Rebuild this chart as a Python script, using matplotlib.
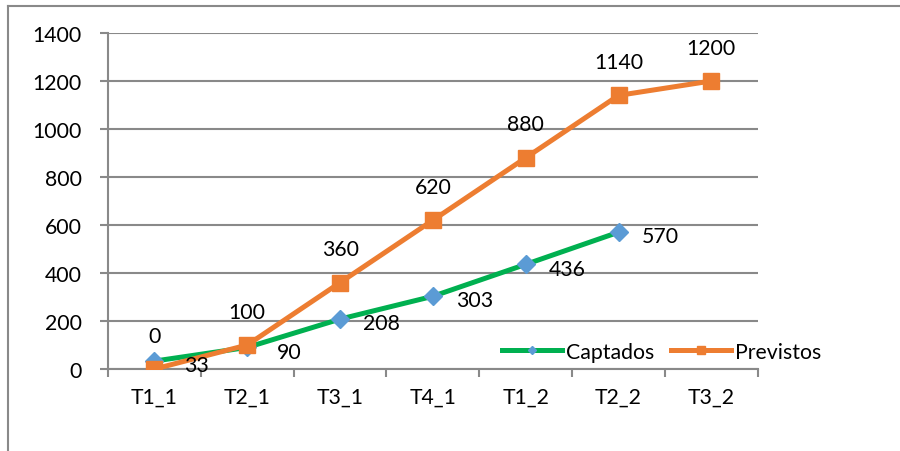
import matplotlib
matplotlib.use("Agg")
import matplotlib.pyplot as plt
from matplotlib.lines import Line2D

plt.rcParams['font.family'] = ['Lato', 'DejaVu Sans']

categorias = ['T1_1', 'T2_1', 'T3_1', 'T4_1', 'T1_2', 'T2_2', 'T3_2']
captados = [33, 90, 208, 303, 436, 570]
previstos = [0, 100, 360, 620, 880, 1140, 1200]

verde = '#00B050'
azul = '#5B9BD5'
naranja = '#ED7D31'
gris = '#898989'
fs = 15.3

fig = plt.figure(figsize=(9, 4.52), dpi=100)
ax = fig.add_axes([0.12, 0.1814, 0.722, 0.7434])

xc = list(range(len(captados)))
xp = list(range(len(previstos)))

ax.plot(xc, captados, color=verde, lw=3.6, marker='D', ms=9,
        mfc=azul, mec=azul, label='Captados', zorder=3)
ax.plot(xp, previstos, color=naranja, lw=3.6, marker='s', ms=11,
        mfc=naranja, mec=naranja, label='Previstos', zorder=4)

# etiquetas de datos
for x, v in zip(xc, captados):
    ax.annotate(str(v), (x, v), xytext=(30, -3), textcoords='offset points',
                ha='center', va='center', fontsize=fs, zorder=5)
for x, v in zip(xp, previstos):
    ax.annotate(str(v), (x, v), xytext=(0, 24), textcoords='offset points',
                ha='center', va='center', fontsize=fs, zorder=5)

ax.set_xlim(-0.5, len(categorias) - 0.5)
ax.set_ylim(0, 1400)
ax.set_yticks(range(0, 1401, 200))
ax.set_xticks(range(len(categorias)))
ax.set_xticklabels(categorias)
ax.set_xticks([i - 0.5 for i in range(len(categorias) + 1)], minor=True)

ax.grid(axis='y', color=gris, lw=1.5, zorder=0)
ax.set_axisbelow(True)
for s in ['top', 'right']:
    ax.spines[s].set_visible(False)
for s in ['left', 'bottom']:
    ax.spines[s].set_color(gris)
    ax.spines[s].set_linewidth(1.5)

ax.tick_params(axis='y', length=6, width=1.5, color=gris, labelsize=fs, pad=13)
ax.tick_params(axis='x', which='major', length=0, labelsize=fs, pad=13)
ax.tick_params(axis='x', which='minor', length=6, width=1.5, color=gris)

fig.legend(loc='center', bbox_to_anchor=(0.735, 0.22), ncol=2, frameon=False,
           fontsize=fs, handlelength=2.8, handletextpad=0.2, columnspacing=0.8,
           markerscale=0.5)

# marco del grafico
fig.add_artist(Line2D([0.009, 0.009], [0, 0.985], color=gris, lw=1.5))
fig.add_artist(Line2D([0.009, 1.0], [0.985, 0.985], color=gris, lw=1.5))

fig.savefig('out.png', dpi=100)
